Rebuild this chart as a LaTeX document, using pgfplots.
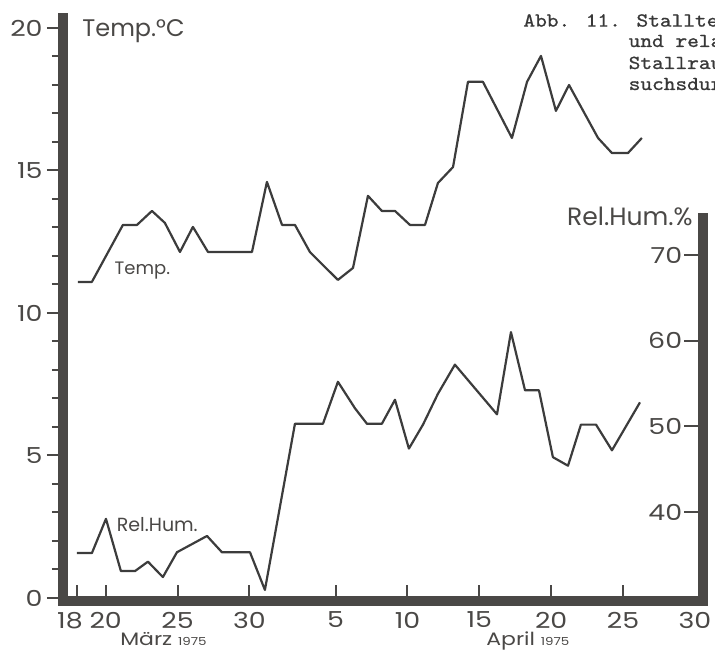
\documentclass[border=0pt]{standalone}
\usepackage{pgfplots}
\pgfplotsset{compat=1.18}
\usepackage{fontspec}
\setmainfont{Poppins}
\newfontfamily\wide[FakeStretch=1.22]{Poppins}
\newfontfamily\typewriter[FakeStretch=1.12,FakeBold=0.9]{Latin Modern Mono}
\definecolor{axisgray}{HTML}{4A4846}
\definecolor{linegray}{HTML}{3C3C3C}
\definecolor{captiongray}{HTML}{383838}

% Temperatur (Tag ab 1. Maerz gezaehlt, 32 = 1. April)
\pgfplotstableread{
day temp
18.07 11.09
19.04 11.09
21.20 13.09
22.18 13.09
23.22 13.58
24.12 13.16
25.17 12.14
26.07 13.02
27.12 12.14
30.18 12.14
31.22 14.60
32.27 13.09
33.17 13.09
34.21 12.14
35.12 11.68
36.16 11.16
37.21 11.58
38.25 14.11
39.22 13.58
40.13 13.58
41.17 13.09
42.22 13.09
43.12 14.56
44.17 15.12
45.21 18.11
46.25 18.11
48.27 16.14
49.32 18.11
50.29 19.02
51.33 17.09
52.24 18.00
54.26 16.14
55.23 15.61
56.34 15.61
57.31 16.14
}\temptable

% relative Luftfeuchte in %
\pgfplotstableread{
day hum
18.00 35.2
19.04 35.2
20.02 39.2
21.06 33.1
22.04 33.1
22.94 34.2
23.98 32.4
24.96 35.3
27.05 37.2
28.09 35.3
30.04 35.3
31.08 30.9
33.17 50.3
35.12 50.3
36.16 55.2
37.35 52.1
38.18 50.3
39.22 50.3
40.13 53.1
41.10 47.4
42.08 50.2
43.12 53.8
44.30 57.2
47.23 51.4
48.20 61.0
49.18 54.2
50.15 54.2
51.12 46.4
52.17 45.4
53.07 50.2
54.12 50.2
55.23 47.2
57.18 52.8
}\humtable

\begin{document}
\begin{tikzpicture}
\useasboundingbox (-31.5pt,-26.6pt) rectangle (326pt,300.4pt);
\clip (-31.5pt,-26.6pt) rectangle (326pt,300.4pt);

\pgfplotsset{
  base/.style={
    scale only axis, width=319.75pt,
    xmin=17.03, xmax=61.53,
    clip=false,
    axis line style={-, line width=5pt, color=axisgray, line cap=rect},
    tick style={line width=1pt, color=axisgray},
    major tick length=8pt, minor tick length=5.5pt,
    /pgf/number format/assume math mode=true,
    tick label style={font=\wide\fontsize{11}{12}\selectfont, text=axisgray},
  }
}

\begin{axis}[base, height=291.4pt,
  ymin=-0.1, ymax=20.35,
  axis x line*=bottom, axis y line*=left,
  xtick align=inside, ytick align=outside,
  ytick={0,5,10,15,20},
  minor ytick={1,2,3,4,6,7,8,9,11,12,13,14,16,17,18,19},
  yticklabel style={inner sep=2pt},
  xtick={18,20,25,30,36,41,46,51,56},
  xticklabels={\makebox[0pt]{18\hspace{7pt}},20,25,30,5,10,15,20,25},
  xticklabel style={yshift=-2pt},
  extra x ticks={61}, extra x tick labels={30},
  extra x tick style={major tick length=0pt},
]
\addplot[linegray, line width=1.1pt, line join=round] table[x=day, y=temp] {\temptable};

\node[anchor=west, inner sep=0pt, font=\fontsize{12}{14}\selectfont, text=axisgray]
  at (axis cs:17.03,20) [xshift=9.5pt, yshift=-1.5pt] {Temp.°C};
\node[anchor=west, inner sep=0pt, font=\fontsize{9}{10}\selectfont, text=axisgray]
  at (axis cs:20.6,11.5) {Temp.};
\node[anchor=west, inner sep=0pt, font=\fontsize{9.5}{10}\selectfont, text=axisgray]
  at (axis cs:20.75,2.57) {Rel.Hum.};
\node[anchor=base, inner sep=0pt, font=\wide\fontsize{9}{10}\selectfont, text=axisgray]
  at (axis cs:24.02,-0.1) [yshift=-22.1pt] {März {\fontsize{5.5}{6}\selectfont 1975}};
\node[anchor=base, inner sep=0pt, font=\wide\fontsize{9}{10}\selectfont, text=axisgray]
  at (axis cs:49.38,-0.1) [yshift=-22.1pt] {April {\fontsize{5.5}{6}\selectfont 1975}};
\end{axis}

\begin{axis}[base, height=191.4pt,
  ymin=29.63, ymax=74.32,
  axis x line=none, axis y line*=right,
  ytick align=inside, major tick length=9.5pt,
  ytick={40,50,60,70},
  yticklabel style={anchor=east, inner sep=0pt, xshift=-10pt},
]
\addplot[linegray, line width=1.1pt, line join=round] table[x=day, y=hum] {\humtable};

\node[anchor=base east, inner sep=0pt, font=\fontsize{12.5}{14}\selectfont, text=axisgray]
  at (rel axis cs:1,1) [xshift=-4.75pt, yshift=-3.5pt] {Rel.Hum.\%};
\end{axis}

\begin{scope}[every node/.style={anchor=base west, inner sep=0pt, text=captiongray,
    font=\typewriter\fontsize{9.95}{10.25}\selectfont}]
\node at (230pt,287.1pt) {Abb. 11. Stalltemperatur};
\node at (282.65pt,276.9pt) {und relative Luftfeuchte};
\node at (282.65pt,265.9pt) {Stallraumes während der Ver-};
\node at (282.65pt,255.4pt) {suchsdurchführung};
\end{scope}
\end{tikzpicture}
\end{document}
